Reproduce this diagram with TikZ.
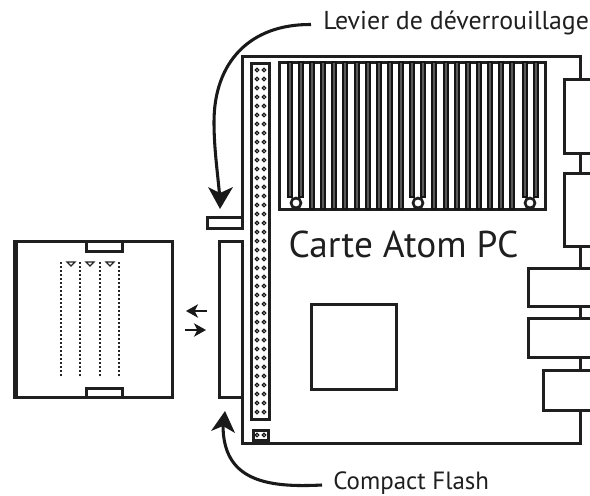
\documentclass[tikz,border=0pt]{standalone}
\usepackage{fontspec}
\setmainfont{PT Sans}
\usetikzlibrary{arrows.meta}
\tikzset{
 x=0.75pt,y=-0.75pt,
 ol/.style={draw=black!88,line width=2.25pt,fill=white},
 wire/.style={draw=black!88,line width=2.25pt},
 pin/.style={draw=black!90,line width=0.85pt,fill=white,circle,inner sep=0pt,minimum size=2.7pt},
 bar/.style={draw=black!92,line width=1.35pt,fill=black!65},
 dots/.style={draw=black!85,line width=1pt,dash pattern=on 1.5pt off 1.5pt},
 tri/.style={draw=black!85,line width=0.8pt,fill=white},
 lab/.style={font=\fontsize{19.4}{21}\selectfont,text=black!88,inner sep=0pt,anchor=base west},
 labb/.style={font=\fontsize{18.7}{20}\selectfont,text=black!88,inner sep=0pt,anchor=base west},
 big/.style={font=\fontsize{28}{30}\selectfont,text=black!88,inner sep=0pt,anchor=base},
 curv/.style={draw=black!90,line width=2.3pt},
 head/.style={fill=black!90,draw=none},
 small/.style={draw=black!90,line width=1.9pt,-{Stealth[length=9pt,width=10pt,inset=2.5pt]}},
}
\begin{document}
\begin{tikzpicture}
\useasboundingbox (0,0) rectangle (590,496);
% board outline
\draw[wire] (242,218) -- (242,56) -- (580,56) -- (580,79);
\draw[wire] (580,153) -- (580,173);
\draw[wire] (580,246) -- (580,268);
\draw[wire] (580,306) -- (580,318);
\draw[wire] (580,357) -- (580,370);
\draw[wire] (580,410) -- (580,443) -- (242,443) -- (242,397);
% right connectors, open at the picture edge
\draw[wire] (590,79) -- (564,79) -- (564,153) -- (590,153);
\draw[wire] (590,173) -- (564,173) -- (564,246) -- (590,246);
\draw[wire] (590,268) -- (528,268) -- (528,306) -- (590,306);
\draw[wire] (590,318) -- (528,318) -- (528,357) -- (590,357);
\draw[wire] (590,370) -- (543,370) -- (543,410) -- (590,410);
% Compact Flash connector and lever
\draw[ol] (219,241) rectangle (242,397);
\draw[ol] (207,217) rectangle (242,228);
% header
\draw[ol] (251,63) rectangle (269,419);
\foreach \i in {0,...,38}{
 \node[pin] (pa\i) at (257,70+9*\i) {};
 \node[pin] (pb\i) at (264,70+9*\i) {};
}
\draw[ol] (253,430) rectangle (268,440);
\node[pin] (ja) at (257,435) {};
\node[pin] (jb) at (264,435) {};
% memory slots
\draw[ol] (279,62) rectangle (545,209);
\foreach \x in {312,323,334,345,357,368,379,390,401,434,446,457,468,479,490,501,512}{
 \draw[bar] (\x-2,62) rectangle (\x+2,209);
}
\foreach \x in {290,301,412,423,525,536}{
 \draw[bar] (\x-2,62) rectangle (\x+2,197);
}
\foreach \x in {296,418,530}{
 \draw[draw=black!88,line width=2pt,fill=white] (\x,203) circle[radius=5];
}
% CPU
\draw[ol] (311,304) rectangle (396,389);
\node[big] (title) at (403.5,257) {Carte Atom PC};
% card
\draw[ol] (14,241) rectangle (172,397);
\fill[black!88] (13,241) rectangle (18,397);
\draw[ol] (86,241) rectangle (122,251);
\draw[ol] (86,388) rectangle (122,397);
\foreach \x in {61,80,100,119}{\draw[dots] (\x,262) -- (\x,376);}
\foreach \x in {71,90,110}{\draw[tri] (\x-4,262) -- (\x+4,262) -- (\x,266) -- cycle;}
% insertion arrows
\coordinate (la) at (207,311); \coordinate (lb) at (186,311);
\coordinate (ra) at (185,330); \coordinate (rb) at (206,330);
\draw[small] (la) -- (lb);
\draw[small] (ra) -- (rb);
% callouts
\node[lab] (lev) at (323,29) {Levier de déverrouillage};
\node[labb] (cf) at (333,489) {Compact Flash};
\coordinate (lt) at (220,209);
\coordinate (ct) at (225,411);
\draw[curv] (311,24.5) .. controls (250,24) and (214,62) .. (214,122) .. controls (214,150) and (218,175) .. (220,200);
\fill[head] (lt) -- (208,187) -- (220,193) -- (233,187) -- cycle;
\draw[curv] (322,485) .. controls (265,488) and (223,480) .. (223,425);
\fill[head] (ct) -- (211,431) -- (223,426) -- (235,433) -- cycle;
\end{tikzpicture}
\end{document}
